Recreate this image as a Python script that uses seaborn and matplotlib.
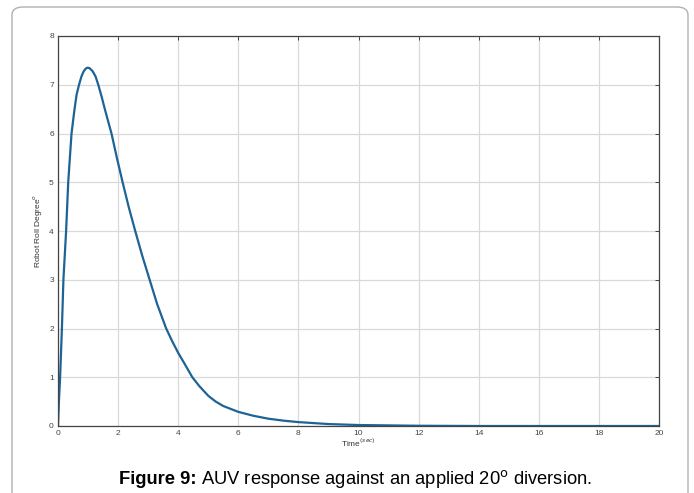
import numpy as np
import pandas as pd
from matplotlib import pyplot as plt
from matplotlib.patches import FancyBboxPatch
import seaborn as sns

# values
time_s = [0, 0.03, 0.07, 0.13, 0.18, 0.27, 0.34, 0.45, 0.55, 0.62, 0.70, 0.78, 0.85, 0.92,
          0.98, 1.05, 1.15, 1.25, 1.34, 1.45, 1.55, 1.66, 1.78, 1.96, 2.15, 2.35, 2.57,
          2.8, 3.05, 3.3, 3.6, 3.8, 4.0, 4.2, 4.47, 4.7, 5.0, 5.25, 5.5, 6.0, 6.5, 7.0,
          7.5, 8.0, 9.0, 10.0, 12.0, 14.0, 16.0, 18.0, 20.0]
roll_deg = [0, 0.5, 1.0, 2.0, 3.0, 4.0, 5.0, 6.0, 6.5, 6.8, 7.0, 7.17, 7.27, 7.33,
            7.35, 7.34, 7.28, 7.17, 7.0, 6.76, 6.52, 6.27, 6.0, 5.5, 5.0, 4.5, 4.0,
            3.5, 3.0, 2.5, 2.0, 1.74, 1.5, 1.29, 1.0, 0.82, 0.62, 0.5, 0.41, 0.29, 0.21, 0.15,
            0.11, 0.08, 0.04, 0.02, 0.005, 0, 0, 0, 0]

caption_bold = "Figure 9:"
caption_rest = " AUV response against an applied 20$^{\\mathrm{o}}$ diversion."


def plot(df, outf):
    sns.set_style("whitegrid")
    plt.rcParams['font.family'] = ['Liberation Sans', 'DejaVu Sans']
    fig = plt.figure(figsize=(6.94, 4.93), dpi=100)
    ax = fig.add_axes([58/694, 1-426/493, (659-58)/694, (426-36)/493])

    sns.lineplot(data=df, x="Time", y="Roll", ax=ax, color="#1d6396", lw=1.6)

    ax.set_xlim(0, 20)
    ax.set_ylim(0, 8)
    ax.set_xticks(range(0, 21, 2))
    ax.set_yticks(range(0, 9))
    ax.grid(True, color="#d9d9d9", lw=0.9)
    for s in ax.spines.values():
        s.set_color("#444444")
        s.set_linewidth(0.9)
    ax.tick_params(direction="in", length=3, width=0.7, color="#444444",
                   labelsize=6, labelcolor="#444444", top=True, right=True, pad=3)
    ax.set_xlabel("Time$^{(sec)}$", fontsize=6, color="#333333")
    ax.xaxis.set_label_coords(0.5, -0.028)
    ax.set_ylabel("Robot Roll Degree$^{o}$", fontsize=6, color="#333333", labelpad=4)

    # rounded frame around the figure
    frame = FancyBboxPatch((12/694, -0.05), (688-12)/694, 1.05 - 7/493,
                           boxstyle="round,pad=0,rounding_size=0.016",
                           transform=fig.transFigure, fill=False,
                           edgecolor="#b0b0b0", lw=1.0)
    fig.patches.append(frame)

    cy = 1 - 479/493
    fs = 13.2
    cx = 353/694
    t1 = fig.text(cx, cy, caption_bold + caption_rest, ha="center", va="center",
                  fontsize=fs, color="white")
    fig.canvas.draw()
    bb = t1.get_window_extent()
    t1.remove()
    x0 = bb.x0 / fig.bbox.width
    tb = fig.text(x0, cy, caption_bold, ha="left", va="center",
                  fontsize=fs, fontweight="bold", color="black")
    fig.canvas.draw()
    bb2 = tb.get_window_extent()
    fig.text(bb2.x1 / fig.bbox.width, cy, caption_rest, ha="left", va="center",
             fontsize=fs, color="black")

    plt.savefig(outf, dpi=100)


if __name__ == "__main__":
    df = pd.DataFrame({"Time": np.array(time_s), "Roll": np.array(roll_deg)})
    plot(df, "out.png")
